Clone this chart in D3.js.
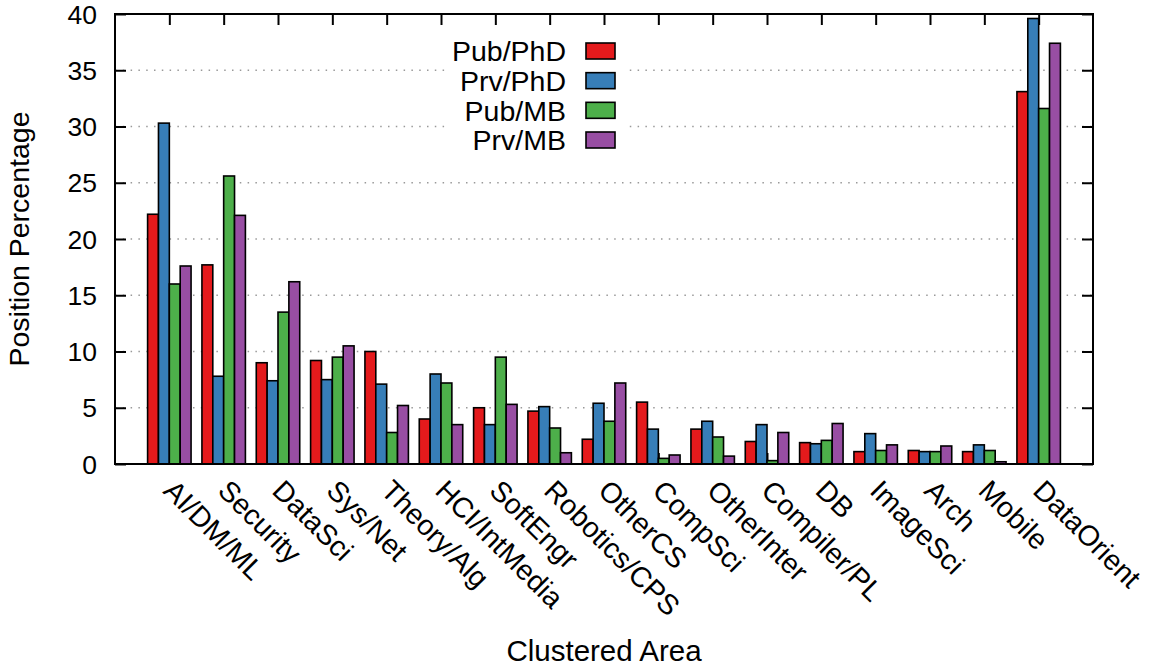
<!DOCTYPE html>
<html>
<head>
<meta charset="utf-8">
<script src="https://cdn.jsdelivr.net/npm/d3@7"></script>
<style>
  html, body { margin: 0; padding: 0; background: #fff; }
  svg { display: block; font-family: "Liberation Sans", Arial, Helvetica, sans-serif; }
</style>
</head>
<body>
<svg id="chart" width="1150" height="667"></svg>
<script>
// Clustered research areas and their share of positions
const categories = ["AI/DM/ML", "Security", "DataSci", "Sys/Net", "Theory/Alg", "HCI/IntMedia",
  "SoftEngr", "Robotics/CPS", "OtherCS", "CompSci", "OtherInter", "Compiler/PL", "DB",
  "ImageSci", "Arch", "Mobile", "DataOrient"];

const seriesNames = ["Pub/PhD", "Prv/PhD", "Pub/MB", "Prv/MB"];
const seriesColors = ["#e41a1c", "#377eb8", "#4daf4a", "#984ea3"];

const pubPhD = [22.2, 17.7, 9.0, 9.2, 10.0, 4.0, 5.0, 4.7, 2.2, 5.5, 3.1, 2.0, 1.9, 1.1, 1.2, 1.1, 33.1];
const prvPhD = [30.3, 7.8, 7.4, 7.5, 7.1, 8.0, 3.5, 5.1, 5.4, 3.1, 3.8, 3.5, 1.8, 2.7, 1.1, 1.7, 39.6];
const pubMB  = [16.0, 25.6, 13.5, 9.5, 2.8, 7.2, 9.5, 3.2, 3.8, 0.5, 2.4, 0.3, 2.1, 1.2, 1.1, 1.2, 31.6];
const prvMB  = [17.6, 22.1, 16.2, 10.5, 5.2, 3.5, 5.3, 1.0, 7.2, 0.8, 0.7, 2.8, 3.6, 1.7, 1.6, 0.2, 37.4];

const yTicks = [0, 5, 10, 15, 20, 25, 30, 35, 40];

const seriesValues = [pubPhD, prvPhD, pubMB, prvMB];

const svg = d3.select("#chart");
const plot = { left: 115, right: 1093, top: 14, bottom: 464 };

const x = d3.scalePoint().domain(categories).range([plot.left, plot.right]).padding(1);
const step = x.step();
const xSub = d3.scaleBand().domain(seriesNames).range([-0.4 * step, 0.4 * step]);
const y = d3.scaleLinear().domain([0, 40]).range([plot.bottom, plot.top]);

// horizontal dotted grid
svg.append("g")
  .selectAll("line")
  .data(yTicks.filter(t => t > 0 && t < 40))
  .join("line")
  .attr("x1", plot.left).attr("x2", plot.right)
  .attr("y1", d => y(d)).attr("y2", d => y(d))
  .attr("stroke", "#999")
  .attr("stroke-width", 1.3)
  .attr("stroke-dasharray", "1.5,6.3");

// inward ticks along the bottom (sit behind the bars)
svg.append("g")
  .attr("transform", `translate(0,${plot.bottom})`)
  .call(d3.axisTop(x).tickSize(11).tickFormat(""))
  .call(g => g.select(".domain").remove())
  .selectAll("line").attr("stroke", "#000").attr("stroke-width", 2);

// bars
const groups = svg.append("g")
  .selectAll("g")
  .data(categories)
  .join("g")
  .attr("transform", d => `translate(${x(d)},0)`);

groups.selectAll("rect")
  .data((c, ci) => seriesNames.map((s, si) => ({ s, si, v: seriesValues[si][ci] })))
  .join("rect")
  .attr("x", d => xSub(d.s))
  .attr("width", xSub.bandwidth())
  .attr("y", d => y(d.v))
  .attr("height", d => y(0) - y(d.v))
  .attr("fill", d => seriesColors[d.si])
  .attr("stroke", "#000")
  .attr("stroke-width", 1.6);

// legend with opaque background
const legend = svg.append("g");
legend.append("rect")
  .attr("x", 448).attr("y", 36).attr("width", 178).attr("height", 118)
  .attr("fill", "#fff");
const legendRow = d3.scalePoint().domain(seriesNames).range([51, 140]);
const items = legend.selectAll("g.item")
  .data(seriesNames)
  .join("g")
  .attr("class", "item")
  .attr("transform", d => `translate(0,${legendRow(d)})`);
items.append("text")
  .attr("x", 566)
  .attr("dy", "0.36em")
  .attr("text-anchor", "end")
  .attr("font-size", 28.5)
  .attr("fill", "#000")
  .text(d => d);
items.append("rect")
  .attr("x", 586).attr("y", -8).attr("width", 29).attr("height", 16)
  .attr("fill", (d, i) => seriesColors[i])
  .attr("stroke", "#000")
  .attr("stroke-width", 1.6);

// y axis (left) with inward ticks and labels
const yAxisLeft = svg.append("g")
  .attr("transform", `translate(${plot.left},0)`)
  .call(d3.axisRight(y).tickValues(yTicks).tickSize(11).tickFormat(""));
yAxisLeft.select(".domain").remove();
yAxisLeft.selectAll("line").attr("stroke", "#000").attr("stroke-width", 2);

svg.append("g")
  .selectAll("text")
  .data(yTicks)
  .join("text")
  .attr("x", plot.left - 18)
  .attr("y", d => y(d))
  .attr("dy", "0.36em")
  .attr("text-anchor", "end")
  .attr("font-size", 26.5)
  .attr("fill", "#000")
  .text(d => d);

// y axis mirror (right)
const yAxisRight = svg.append("g")
  .attr("transform", `translate(${plot.right},0)`)
  .call(d3.axisLeft(y).tickValues(yTicks).tickSize(11).tickFormat(""));
yAxisRight.select(".domain").remove();
yAxisRight.selectAll("line").attr("stroke", "#000").attr("stroke-width", 2);

// x axis mirror (top)
const xAxisTop = svg.append("g")
  .attr("transform", `translate(0,${plot.top})`)
  .call(d3.axisBottom(x).tickSize(11).tickFormat(""));
xAxisTop.select(".domain").remove();
xAxisTop.selectAll("line").attr("stroke", "#000").attr("stroke-width", 2);

// plot border
svg.append("rect")
  .attr("x", plot.left).attr("y", plot.top)
  .attr("width", plot.right - plot.left).attr("height", plot.bottom - plot.top)
  .attr("fill", "none").attr("stroke", "#000").attr("stroke-width", 2);

// rotated category labels
svg.append("g")
  .selectAll("text")
  .data(categories)
  .join("text")
  .attr("transform", d => `translate(${x(d)},${plot.bottom + 21}) rotate(45)`)
  .attr("dy", "0.36em")
  .attr("text-anchor", "start")
  .attr("font-size", 28.5)
  .attr("fill", "#000")
  .text(d => d);

// axis titles
svg.append("text")
  .attr("transform", `translate(29,${(plot.top + plot.bottom) / 2}) rotate(-90)`)
  .attr("text-anchor", "middle")
  .attr("font-size", 28.5)
  .attr("fill", "#000")
  .text("Position Percentage");

svg.append("text")
  .attr("x", (plot.left + plot.right) / 2)
  .attr("y", 661)
  .attr("text-anchor", "middle")
  .attr("font-size", 29.5)
  .attr("fill", "#000")
  .text("Clustered Area");
</script>
</body>
</html>
